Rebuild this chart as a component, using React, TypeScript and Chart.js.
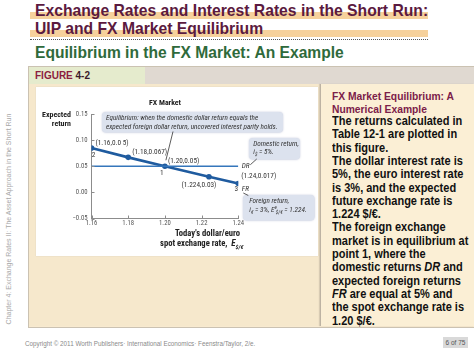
import React, { useEffect, useRef } from 'react';
import { Chart, registerables } from 'chart.js';
Chart.register(...registerables);

// ---------------- data ----------------
const spotRates = [1.16, 1.18, 1.2, 1.224, 1.24];
const foreignReturns = [0.085, 0.067, 0.05, 0.03, 0.017];
const domesticSpot = [1.16, 1.24];
const domesticReturns = [0.05, 0.05];
const pointLabels = ['(1.16,0.0 5)', '(1.18,0.067)', '(1.20,0.05)', '(1.224,0.03)', '(1.24,0.017)'];
const pointNumbers = ['2', '', '1', '', '3'];
const seriesNames = ['DR', 'FR'];
const xMin = 1.16;
const xMax = 1.24;
const xStep = 0.02;
const yMin = -0.05;
const yMax = 0.15;
const yStep = 0.05;

// ---------------- styles ----------------
const NARROW = '"Liberation Sans Narrow", "Arial Narrow", "Roboto Condensed", "Liberation Sans", Arial, sans-serif';
const SANS = '"Liberation Sans", Arial, Helvetica, sans-serif';
const labelOffsets: [number, number, CanvasTextAlign][] = [
  [4, -5, 'left'], [4, -5, 'left'], [3, -5.5, 'left'], [-10, 8, 'center'], [3, -7, 'left'],
];
const numberOffsets: [number, number][] = [[2, 7], [0, 0], [-3, 6.5], [0, 0], [-2, 6]];

function fitSize(text: string, style: string, family: string, target: number) {
  const c = document.createElement('canvas').getContext('2d')!;
  c.font = `${style} 20px ${family}`;
  const w = c.measureText(text).width;
  return (20 * target) / w;
}

type Seg = { t: string; f: string; dy?: number };
function drawRich(ctx: CanvasRenderingContext2D, segs: Seg[], x: number, y: number) {
  let cx = x;
  for (const s of segs) {
    ctx.font = s.f;
    ctx.fillText(s.t, cx, y + (s.dy || 0));
    cx += ctx.measureText(s.t).width;
  }
  return cx;
}

function roundBox(ctx: CanvasRenderingContext2D, x: number, y: number, w: number, h: number) {
  ctx.save();
  ctx.fillStyle = '#dce2ee';
  ctx.shadowColor = 'rgba(140,150,185,0.55)';
  ctx.shadowBlur = 2;
  ctx.beginPath();
  (ctx as any).roundRect(x, y, w, h, 4);
  ctx.fill();
  ctx.restore();
}

export default function App() {
  const ref = useRef<HTMLCanvasElement>(null);

  useEffect(() => {
    const canvas = ref.current!;
    const tickSize = fitSize('0.15', 'normal', NARROW, 11.7);
    const labSize = fitSize('(1.224,0.03)', 'normal', NARROW, 35);
    const calSize = fitSize('expected foreign dollar return, uncovered interest parity holds.', 'italic', NARROW, 172);
    const axSize = fitSize("Today's dollar/euro", 'bold', NARROW, 65);
    const expSize = fitSize('Expected', 'bold', NARROW, 29);
    const ttlSize = fitSize('FX Market', 'bold', NARROW, 32);

    const annot = {
      id: 'annot',
      afterDatasetsDraw(chart: any) {
        const ctx: CanvasRenderingContext2D = chart.ctx;
        const ca = chart.chartArea;
        const xs = chart.scales.x;
        const ys = chart.scales.y;
        ctx.save();
        // inward tick marks
        ctx.strokeStyle = '#8c8c8c';
        ctx.lineWidth = 1;
        xs.ticks.forEach((t: any) => {
          const px = Math.round(xs.getPixelForValue(t.value)) + 0.5;
          ctx.beginPath(); ctx.moveTo(px, ca.bottom); ctx.lineTo(px, ca.bottom - 3); ctx.stroke();
        });
        ys.ticks.forEach((t: any) => {
          const py = Math.round(ys.getPixelForValue(t.value)) + 0.5;
          ctx.beginPath(); ctx.moveTo(ca.left, py); ctx.lineTo(ca.left + 3, py); ctx.stroke();
        });

        // titles
        ctx.fillStyle = '#222';
        ctx.textBaseline = 'alphabetic';
        ctx.font = `bold ${ttlSize}px ${NARROW}`;
        ctx.textAlign = 'center';
        ctx.fillText('FX Market', 129, 17);
        ctx.font = `bold ${expSize}px ${NARROW}`;
        ctx.textAlign = 'right';
        ctx.fillText('Expected', 35, 29);
        ctx.fillText('return', 35, 37.7);
        ctx.font = `bold ${axSize}px ${NARROW}`;
        ctx.textAlign = 'center';
        ctx.fillText("Today's dollar/euro", 171.5, 148);
        ctx.textAlign = 'left';
        const ax2 = drawRich(ctx, [
          { t: 'spot exchange rate,  ', f: `bold ${axSize}px ${NARROW}` },
          { t: 'E', f: `italic bold ${axSize * 1.05}px ${NARROW}` },
        ], 124, 158);
        drawRich(ctx, [{ t: '$/€', f: `italic bold ${axSize * 0.7}px ${NARROW}`, dy: 2.5 }], ax2, 158);

        // point labels
        ctx.fillStyle = '#333';
        ctx.textBaseline = 'middle';
        ctx.font = `${labSize}px ${NARROW}`;
        spotRates.forEach((v, i) => {
          const px = xs.getPixelForValue(v);
          const py = ys.getPixelForValue(foreignReturns[i]);
          const [dx, dy, al] = labelOffsets[i];
          ctx.textAlign = al;
          ctx.fillText(pointLabels[i], px + dx, py + dy);
          if (pointNumbers[i]) {
            ctx.textAlign = 'center';
            ctx.fillText(pointNumbers[i], px + numberOffsets[i][0], py + numberOffsets[i][1]);
          }
        });
        // series names
        const drEnd = xs.getPixelForValue(domesticSpot[1]);
        const drY = ys.getPixelForValue(domesticReturns[1]);
        const frX = xs.getPixelForValue(spotRates[4]);
        const frY = ys.getPixelForValue(foreignReturns[4]);
        ctx.textAlign = 'left';
        ctx.font = `italic ${labSize}px ${NARROW}`;
        ctx.fillText(seriesNames[0], drEnd + 3.5, drY);
        ctx.fillText(seriesNames[1], frX + 3.5, frY + 6);

        // callout boxes
        roundBox(ctx, 66, 24, 181, 20.5);
        roundBox(ctx, 213, 50, 51, 21.5);
        roundBox(ctx, 207, 107, 71.5, 25.5);

        // pointer lines
        ctx.strokeStyle = '#333';
        ctx.lineWidth = 0.8;
        const p1x = xs.getPixelForValue(spotRates[2]);
        const p1y = ys.getPixelForValue(foreignReturns[2]);
        ctx.beginPath(); ctx.moveTo(137, 43.5); ctx.lineTo(p1x + 1, p1y - 6); ctx.stroke();
        ctx.beginPath(); ctx.moveTo(220.7, 71); ctx.lineTo(drEnd + 12, drY - 1.5); ctx.stroke();
        ctx.beginPath(); ctx.moveTo(frX + 5, frY + 9.5); ctx.lineTo(212.3, 107.5); ctx.stroke();

        // callout text
        ctx.fillStyle = '#333';
        ctx.textBaseline = 'alphabetic';
        ctx.textAlign = 'left';
        const it = `italic ${calSize}px ${NARROW}`;
        const its = `italic ${calSize * 0.72}px ${NARROW}`;
        ctx.font = it;
        ctx.fillText('Equilibrium: when the domestic dollar return equals the', 70, 31.5);
        ctx.fillText('expected foreign dollar return, uncovered interest parity holds.', 70, 41);
        ctx.fillText('Domestic return,', 217.3, 57.8);
        drawRich(ctx, [
          { t: 'i', f: it }, { t: '$', f: its, dy: 2 }, { t: ' = 5%.', f: it },
        ], 217.3, 66.3);
        ctx.font = it;
        ctx.fillText('Foreign return,', 213.3, 115);
        const e1 = drawRich(ctx, [
          { t: 'i', f: it }, { t: '€', f: its, dy: 2 }, { t: ' = 3%, E', f: it }, { t: 'e', f: its, dy: -3 },
        ], 213.3, 123.5);
        drawRich(ctx, [{ t: '$/€', f: its, dy: 2 }, { t: ' = 1.224.', f: it }], e1 - 1, 123.5);
        ctx.restore();
      },
    };

    const chart = new Chart(canvas, {
      type: 'scatter',
      data: {
        datasets: [
          {
            label: seriesNames[0],
            data: domesticSpot.map((v, i) => ({ x: v, y: domesticReturns[i] })),
            showLine: true,
            borderColor: '#3576bb',
            borderWidth: 1.6,
            pointRadius: 0,
          },
          {
            label: seriesNames[1],
            data: spotRates.map((v, i) => ({ x: v, y: foreignReturns[i] })),
            showLine: true,
            borderColor: '#1f5b9f',
            backgroundColor: '#1f5b9f',
            borderWidth: 2.6,
            pointRadius: 2.8,
            pointBorderWidth: 0,
          },
        ],
      },
      options: {
        responsive: false,
        animation: false,
        devicePixelRatio: 1,
        layout: { padding: { left: 25.5, right: 79.7, top: 26, bottom: 25.5 } },
        plugins: { legend: { display: false }, tooltip: { enabled: false }, title: { display: false } },
        scales: {
          x: {
            type: 'linear',
            min: xMin,
            max: xMax,
            ticks: {
              stepSize: xStep,
              padding: 1,
              color: '#555',
              autoSkip: false,
              maxRotation: 0,
              font: { family: NARROW, size: tickSize },
              callback: (v: any) => Number(v).toFixed(2),
            },
            grid: { display: false, drawTicks: false },
            border: { display: true, color: '#8c8c8c', width: 1 },
            afterFit: (s: any) => { s.height = 12; },
          },
          y: {
            type: 'linear',
            min: yMin,
            max: yMax,
            ticks: {
              stepSize: yStep,
              padding: 4,
              color: '#555',
              font: { family: NARROW, size: tickSize },
              callback: (v: any) => Number(v).toFixed(2).replace('-', '\u2212'),
            },
            grid: { display: false, drawTicks: false },
            border: { display: true, color: '#8c8c8c', width: 1 },
            afterFit: (s: any) => { s.width = 30; },
          },
        },
      },
      plugins: [annot],
    } as any);
    return () => chart.destroy();
  }, []);

  const abs = (o: React.CSSProperties): React.CSSProperties => ({ position: 'absolute', whiteSpace: 'nowrap', ...o });

  return (
    <div style={{ position: 'absolute', left: 0, top: 0, width: 474, height: 355, background: '#fff', overflow: 'hidden', fontFamily: SANS }}>
      {/* title highlight bands */}
      <div style={abs({ left: 30, top: 11.7, width: 398, height: 7.3, background: '#f6d19c' })} />
      <div style={abs({ left: 30, top: 29.5, width: 398, height: 7.8, background: '#f6d19c' })} />
      <div style={abs({ left: 30, top: 38.5, width: 398, height: 0, borderTop: '1px dotted #555' })} />
      <div style={abs({ left: 35, top: 2.7, fontSize: 15.7, lineHeight: '15.7px', fontWeight: 'bold', color: '#5b1a40' })}>
        Exchange Rates and Interest Rates in the Short Run:
      </div>
      <div style={abs({ left: 35, top: 21, fontSize: 15.7, lineHeight: '15.7px', fontWeight: 'bold', color: '#5b1a40' })}>
        UIP and FX Market Equilibrium
      </div>
      <div style={abs({ left: 35, top: 45.1, fontSize: 15.6, lineHeight: '15.6px', fontWeight: 'bold', color: '#2f6a3b' })}>
        Equilibrium in the FX Market: An Example
      </div>

      {/* side text */}
      <div style={abs({ left: 8, top: 219, fontSize: 7, lineHeight: '7px', color: '#a8a8a8', transform: 'translate(-50%, -50%) rotate(-90deg)' })}>
        Chapter 4: Exchange Rates II: The Asset Approach in the Short Run
      </div>

      {/* figure frame */}
      <div style={abs({ left: 28, top: 66, width: 450, height: 260, border: '1px solid #cbc2b2', background: '#f8ead0' })} />
      <div style={abs({ left: 29, top: 67, width: 116, height: 17, background: '#e5ebcd' })} />
      <div style={abs({ left: 145, top: 67, width: 333, height: 17, background: '#e0d9d1' })} />
      <div style={abs({ left: 35, top: 71, fontSize: 10, lineHeight: '10px', fontWeight: 'bold', color: '#8c1c3e' })}>
        FIGURE <span style={{ color: '#3a1a2a' }}>4-2</span>
      </div>
      <div style={abs({ left: 29, top: 84, width: 291, height: 242, background: '#f6e8cc' })} />
      <div style={abs({ left: 36, top: 87, width: 282, height: 169, background: '#fff', boxShadow: '0 0 1px #cfc5b5' })} />
      <div style={abs({ left: 320, top: 84, width: 153, height: 242, background: '#fbefd5', borderLeft: '1px solid #bdb3a3', boxShadow: '-1px 0 1px rgba(0,0,0,0.12)' })} />

      <canvas ref={ref} width={282} height={168} style={{ position: 'absolute', left: 36, top: 88, width: 282, height: 168 }} />

      {/* right panel text */}
      <div style={abs({ left: 332, top: 88.5, fontSize: 11.7, lineHeight: '13.3px', fontWeight: 'bold', color: '#7b2049', transform: 'scaleX(0.88)', transformOrigin: '0 0' })}>
        FX Market Equilibrium: A<br />Numerical Example
      </div>
      <div style={abs({ left: 332, top: 115.1, fontSize: 12.5, lineHeight: '13.3px', fontWeight: 'bold', color: '#111', transform: 'scaleX(0.88)', transformOrigin: '0 0' })}>
        The returns calculated in<br />
        Table 12-1 are plotted in<br />
        this figure.<br />
        The dollar interest rate is<br />
        5%, the euro interest rate<br />
        is 3%, and the expected<br />
        future exchange rate is<br />
        1.224 $/€.<br />
        The foreign exchange<br />
        market is in equilibrium at<br />
        point 1, where the<br />
        domestic returns <i>DR</i> and<br />
        expected foreign returns<br />
        <i>FR</i> are equal at 5% and<br />
        the spot exchange rate is<br />
        1.20 $/€.
      </div>

      {/* footer */}
      <div style={abs({ left: 25, top: 339.5, fontSize: 6.3, lineHeight: '7px', color: '#8a8a8a' })}>
        Copyright © 2011 Worth Publishers· International Economics· Feenstra/Taylor, 2/e.
      </div>
      <div style={abs({ left: 443, top: 337, width: 25, height: 11, background: '#d9d9d9', color: '#555', fontSize: 6.5, lineHeight: '11px', textAlign: 'center' })}>
        6 of 75
      </div>
    </div>
  );
}
